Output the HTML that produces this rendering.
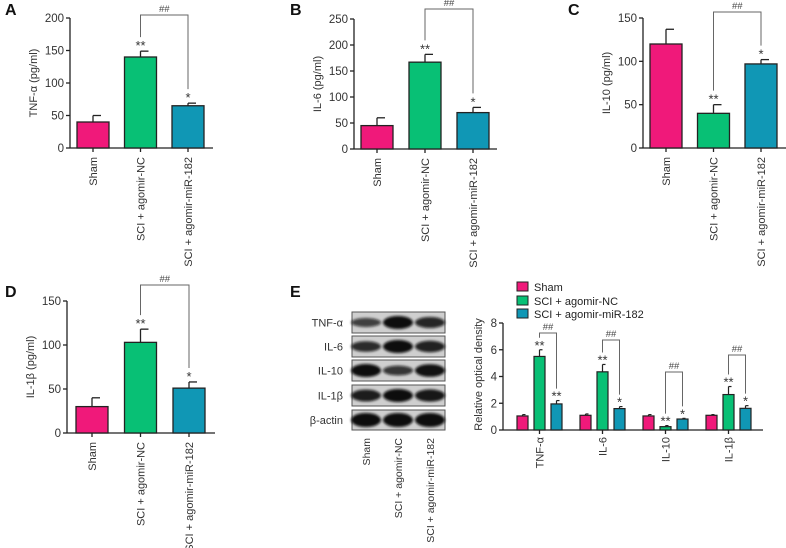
<!DOCTYPE html>
<html><head><meta charset="utf-8">
<style>
html,body{margin:0;padding:0;background:#fff;}
svg{display:block;font-family:"Liberation Sans",Arial,sans-serif;}
</style></head>
<body>
<svg id="fig" width="786" height="548" viewBox="0 0 786 548" xmlns="http://www.w3.org/2000/svg">
<defs><filter id="blur" x="-20%" y="-50%" width="140%" height="200%"><feGaussianBlur stdDeviation="1.4"/></filter></defs>
</svg>
<script>
const groups = ["Sham","SCI + agomir-NC","SCI + agomir-miR-182"];
const colors = ["#f0197a","#08c075","#1097b5"];
const aVals = [40,140,65], aErr = [10,9,4];
const bVals = [45,167,70], bErr = [15,15,10];
const cVals = [120,40,97], cErr = [17,10,5];
const dVals = [30,103,51], dErr = [10,15,7];
const aTicks = [0,50,100,150,200];
const bTicks = [0,50,100,150,200,250];
const cTicks = [0,50,100,150];
const dTicks = [0,50,100,150];
const aStars = ["","**","*"], bStars = ["","**","*"], cStars = ["","**","*"], dStars = ["","**","*"];
const eCats = ["TNF-α","IL-6","IL-10","IL-1β"];
const eSham = [1.05,1.1,1.05,1.1], eShamErr = [0.1,0.1,0.1,0.05];
const eNC = [5.5,4.35,0.25,2.65], eNCErr = [0.5,0.55,0.08,0.6];
const eMiR = [1.95,1.6,0.82,1.62], eMiRErr = [0.25,0.15,0.05,0.2];
const eStarsNC = ["**","**","**","**"], eStarsMiR = ["**","*","*","*"];
const eTicks = [0,2,4,6,8];
const blotRows = ["TNF-α","IL-6","IL-10","IL-1β","β-actin"];
const blotIntensity = [[0.5,1,0.75],[0.7,1,0.8],[1,0.6,0.95],[0.85,1,0.9],[1,1,1]];

const svg = document.getElementById('fig');
const NS = "http://www.w3.org/2000/svg";
function el(tag, attrs, parent){const e=document.createElementNS(NS,tag);for(const k in attrs)e.setAttribute(k,attrs[k]);(parent||svg).appendChild(e);return e;}
function txt(s, attrs, parent){const e=el('text',attrs,parent);e.textContent=s;return e;}

function panel(cfg){
  const g = el('g',{});
  
  
  const y = v => cfg.y0 - (v/cfg.max)*(cfg.y0-cfg.yTop);
  const lab = txt(cfg.letter,{x:cfg.lx,y:cfg.ly,'font-size':16,'font-weight':'bold',fill:'#111'},g);
  
  
  el('line',{x1:cfg.ax,y1:cfg.yTop,x2:cfg.ax,y2:cfg.y0,stroke:'#222','stroke-width':1.3},g);
  el('line',{x1:cfg.ax,y1:cfg.y0,x2:cfg.axEnd,y2:cfg.y0,stroke:'#222','stroke-width':1.3},g);
  cfg.ticks.forEach(t=>{
    el('line',{x1:cfg.ax-4,y1:y(t),x2:cfg.ax,y2:y(t),stroke:'#222','stroke-width':1.3},g);
    const tl = txt(String(t),{x:cfg.ax-6,y:y(t)+4,'text-anchor':'end','font-size':11.5,fill:'#333'},g);
    
    
  });
  const yt = txt(cfg.ytitle,{x:0,y:0,'text-anchor':'middle','font-size':11,fill:'#333',transform:`translate(${cfg.ax-33},${(cfg.y0+cfg.yTop)/2}) rotate(-90)`},g);
  
  
  const bw = cfg.bw, centers=[];
  cfg.vals.forEach((v,i)=>{
    const x0 = cfg.b0 + i*cfg.step, cx = x0+bw/2; centers.push(cx);
    const top = y(v+cfg.err[i]);
    el('line',{x1:cx,y1:y(v),x2:cx,y2:top,stroke:'#222','stroke-width':1.3},g);
    el('line',{x1:cx,y1:top,x2:cx+bw*0.25,y2:top,stroke:'#222','stroke-width':1.3},g);
    const r = el('rect',{x:x0,y:y(v),width:bw,height:cfg.y0-y(v),fill:colors[i],stroke:'#222','stroke-width':1.3},g);
    
    
    el('line',{x1:cx,y1:cfg.y0,x2:cx,y2:cfg.y0+4,stroke:'#222','stroke-width':1.3},g);
    if(cfg.stars[i]){const s=txt(cfg.stars[i],{x:cx,y:top-1,'text-anchor':'middle','font-size':13,fill:'#333'},g);
      
      }
    const xl = txt(groups[i],{x:0,y:0,'text-anchor':'end','font-size':11,fill:'#333',transform:`translate(${cx+4},${cfg.y0+9}) rotate(-90)`},g);
    
    
  });
  const by = cfg.bracketY;
  const c1=centers[1], c2=centers[2];
  const s1 = y(cfg.vals[1]+cfg.err[1])-14, s2 = y(cfg.vals[2]+cfg.err[2])-14;
  const br = el('path',{d:`M${c1},${s1} L${c1},${by} L${c2},${by} L${c2},${s2}`,fill:'none',stroke:'#666','stroke-width':1},g);
  
  
  txt('##',{x:(c1+c2)/2,y:by-3,'text-anchor':'middle','font-size':9.5,fill:'#444'},g);
}

panel({name:'panel-a-tnf',letter:'A',lx:5,ly:15,ax:70,axEnd:213,y0:148,yTop:18,max:200,ticks:aTicks,ytitle:'TNF-α (pg/ml)',b0:77,step:47.5,bw:32,vals:aVals,err:aErr,stars:aStars,bracketY:15});
panel({name:'panel-b-il6',letter:'B',lx:290,ly:15,ax:354,axEnd:497,y0:149,yTop:19,max:250,ticks:bTicks,ytitle:'IL-6 (pg/ml)',b0:361,step:48,bw:32,vals:bVals,err:bErr,stars:bStars,bracketY:9});
panel({name:'panel-c-il10',letter:'C',lx:568,ly:15,ax:643,axEnd:786,y0:148,yTop:18,max:150,ticks:cTicks,ytitle:'IL-10 (pg/ml)',b0:650,step:47.5,bw:32,vals:cVals,err:cErr,stars:cStars,bracketY:12});
panel({name:'panel-d-il1b',letter:'D',lx:5,ly:297,ax:67,axEnd:215,y0:433,yTop:301,max:150,ticks:dTicks,ytitle:'IL-1β (pg/ml)',b0:76,step:48.5,bw:32,vals:dVals,err:dErr,stars:dStars,bracketY:285});

(function(){
  const g = el('g',{});
  
  
  const l = txt('E',{x:290,y:297,'font-size':16,'font-weight':'bold',fill:'#111'},g);
  
  
  const rowsY=[312,336,360,385,410], rowH=[21,21,21,21,20];
  const lanes=[366,398,430];
  blotRows.forEach((name,r)=>{
    el('rect',{x:352,y:rowsY[r],width:93,height:rowH[r],fill:'#cfcfcf',stroke:'#555','stroke-width':1},g);
    lanes.forEach((cx,i)=>{
      const k = blotIntensity[r][i];
      const h = r===4 ? 14 : 5+8*k;
      const band = el('ellipse',{cx:cx,cy:rowsY[r]+rowH[r]/2,rx:15,ry:h/2,fill:'#0a0a0a','fill-opacity':0.5+0.5*k,filter:'url(#blur)'},g);
      
      
    });
    const t = txt(name,{x:343,y:rowsY[r]+rowH[r]/2+4,'text-anchor':'end','font-size':11,fill:'#333'},g);
    
    
  });
  lanes.forEach((cx,i)=>{
    const t = txt(groups[i],{x:0,y:0,'text-anchor':'end','font-size':10.5,fill:'#333',transform:`translate(${cx+4},${438}) rotate(-90)`},g);
    
    
  });
})();

(function(){
  const g = el('g',{});
  
  
  const ax=503, axEnd=763, y0=430, yTop=323, max=8;
  const y = v => y0 - v/max*(y0-yTop);
  el('line',{x1:ax,y1:yTop,x2:ax,y2:y0,stroke:'#222','stroke-width':1.3},g);
  el('line',{x1:ax,y1:y0,x2:axEnd,y2:y0,stroke:'#222','stroke-width':1.3},g);
  eTicks.forEach(t=>{
    el('line',{x1:ax-4,y1:y(t),x2:ax,y2:y(t),stroke:'#222','stroke-width':1.3},g);
    const tl=txt(String(t),{x:ax-6,y:y(t)+4,'text-anchor':'end','font-size':11.5,fill:'#333'},g);
    
    
  });
  const yt=txt('Relative optical density',{x:0,y:0,'text-anchor':'middle','font-size':11,fill:'#333',transform:`translate(${ax-21},${(y0+yTop)/2-2}) rotate(-90)`},g);
  
  
  const series=[[eSham,eShamErr],[eNC,eNCErr],[eMiR,eMiRErr]];
  const bw=11, gstep=63, b0=517, inner=17;
  const bracketYs=[333,340,372,355];
  eCats.forEach((cat,gi)=>{
    const cs=[];
    series.forEach((s,i)=>{
      const v=s[0][gi], e=s[1][gi];
      const x0=b0+gi*gstep+i*inner, cx=x0+bw/2; cs.push(cx);
      const top=y(v+e);
      el('line',{x1:cx,y1:y(v),x2:cx,y2:top,stroke:'#222','stroke-width':1.2},g);
      el('line',{x1:cx,y1:top,x2:cx+3,y2:top,stroke:'#222','stroke-width':1.2},g);
      const r=el('rect',{x:x0,y:y(v),width:bw,height:y0-y(v),fill:colors[i],stroke:'#222','stroke-width':1.2},g);
      
      
      const star = i===1?eStarsNC[gi]:(i===2?eStarsMiR[gi]:'');
      if(star){const st=txt(star,{x:cx,y:top,'text-anchor':'middle','font-size':13,fill:'#333'},g);
        
        }
    });
    const c1=cs[1], c2=cs[2], by=bracketYs[gi];
    const s1=y(eNC[gi]+eNCErr[gi])-12, s2=y(eMiR[gi]+eMiRErr[gi])-12;
    const br=el('path',{d:`M${c1},${Math.max(s1,by)} L${c1},${by} L${c2},${by} L${c2},${s2}`,fill:'none',stroke:'#666','stroke-width':1},g);
    
    
    txt('##',{x:(c1+c2)/2,y:by-3,'text-anchor':'middle','font-size':9.5,fill:'#444'},g);
    const cx=cs[1];
    el('line',{x1:cx,y1:y0,x2:cx,y2:y0+4,stroke:'#222','stroke-width':1.3},g);
    const xl=txt(cat,{x:0,y:0,'text-anchor':'end','font-size':11,fill:'#333',transform:`translate(${cx+4},${y0+7}) rotate(-90)`},g);
    
    
  });
  const legY=[287,301,314];
  groups.forEach((name,i)=>{
    const lg=el('g',{},g);
    
    
    el('rect',{x:517,y:legY[i]-5,width:11,height:9,fill:colors[i],stroke:'#222','stroke-width':1},lg);
    txt(name,{x:534,y:legY[i]+4,'font-size':11,fill:'#222'},lg);
  });
})();
</script>
</body></html>
